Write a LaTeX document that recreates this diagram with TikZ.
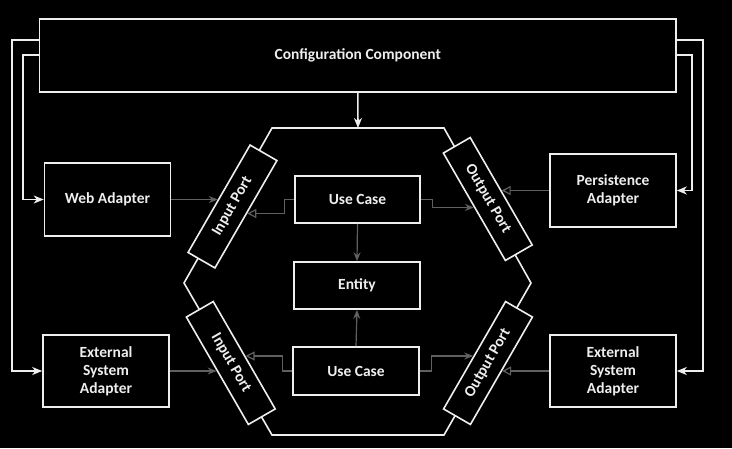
\documentclass[tikz,border=0pt]{standalone}
\usepackage{fontspec}
\setmainfont{Carlito}
\usetikzlibrary{arrows.meta,intersections,calc}
\definecolor{wline}{HTML}{EEEEEE}
\definecolor{gline}{HTML}{606060}
\begin{document}
\begin{tikzpicture}[x=1pt,y=-1pt,
  box/.style={draw=wline, line width=1.6pt, fill=black, text=wline, font=\bfseries\fontsize{15.5}{18}\selectfont, align=center, inner sep=0pt},
  port/.style={box, minimum width=124pt, minimum height=31pt},
  wire/.style={draw=wline, line width=1.6pt},
  warr/.style={wire, -{Stealth[length=10pt,width=8pt,inset=3pt]}},
  garr/.style={draw=gline, line width=1.2pt, -{Stealth[length=9pt,width=7pt,inset=3pt]}},
  gopen/.style={draw=gline, line width=1.2pt, -{Triangle[open,length=9pt,width=9pt,fill=black]}},
]
\fill[black] (0,0) rectangle (732,448);
\useasboundingbox (0,0) rectangle (732,448);

% hexagon
\coordinate (hexTop) at (358,128);
\draw[wire] (272,128) -- (444,128) -- (531,283) -- (444,435) -- (272,435) -- (184,283) -- cycle;

% boxes
\node[box, minimum width=636.5pt, minimum height=73pt] (cfg) at (357.8,55.5) {Configuration Component};
\node[box, minimum width=126pt, minimum height=73pt] (wa) at (107.5,199.5) {Web Adapter};
\node[box, minimum width=126pt, minimum height=72pt] (esl) at (106,371) {External\\System\\Adapter};
\node[box, minimum width=126pt, minimum height=73pt] (pa) at (613,190.5) {Persistence\\Adapter};
\node[box, minimum width=126pt, minimum height=72pt] (esr) at (613,371) {External\\System\\Adapter};
\node[box, minimum width=125pt, minimum height=47pt] (ucU) at (357.5,199.5) {Use Case};
\node[box, minimum width=126pt, minimum height=47pt] (ent) at (357,285.5) {Entity};
\node[box, minimum width=126pt, minimum height=48pt] (ucL) at (356,371) {Use Case};

% ports
\node[port, rotate=60] (ipU) at (232.5,206.5) {Input Port};
\node[port, rotate=-60] (ipL) at (230.8,363) {Input Port};
\node[port, rotate=-60] (opU) at (487.8,199) {Output Port};
\node[port, rotate=60] (opL) at (488,363) {Output Port};

% port sides
\path[name path=ipUn] (ipU.north west) -- (ipU.north east);
\path[name path=ipUs] (ipU.south west) -- (ipU.south east);
\path[name path=ipLn] (ipL.north west) -- (ipL.north east);
\path[name path=ipLs] (ipL.south west) -- (ipL.south east);
\path[name path=opUn] (opU.north west) -- (opU.north east);
\path[name path=opUs] (opU.south west) -- (opU.south east);
\path[name path=opLn] (opL.north west) -- (opL.north east);
\path[name path=opLs] (opL.south west) -- (opL.south east);

% configuration wires
\draw[warr] ([yshift=-22pt]cfg.north west) -- ++(-26.5,0) |- (esl.west);
\draw[warr] ([yshift=-37pt]cfg.north west) -- ++(-15.5,0) |- (wa.west);
\draw[warr] ([yshift=-22pt]cfg.north east) -- ++(26,0) |- (esr.east);
\draw[warr] ([yshift=-37pt]cfg.north east) -- ++(15,0) |- (pa.east);
\draw[warr] (cfg.south) -- (hexTop);

% gray connectors
\path[name path=l1] (wa.east) -- ++(80,0);
\draw[garr, name intersections={of=l1 and ipUn}] (wa.east) -- (intersection-1);

\coordinate (a2) at ($(ucU.west)+(-10,14)$);
\path[name path=l2] (a2) -- ++(-80,0);
\draw[gopen, name intersections={of=l2 and ipUs}] (ucU.west) -- ++(-10,0) -- (a2) -- (intersection-1);

\coordinate (a3) at ($(ucU.east)+(12,8)$);
\path[name path=l3] (a3) -- ++(80,0);
\draw[garr, name intersections={of=l3 and opUs}] (ucU.east) -- ++(12,0) -- (a3) -- (intersection-1);

\path[name path=l4] (pa.west) -- ++(-80,0);
\draw[gopen, name intersections={of=l4 and opUn}] (pa.west) -- (intersection-1);

\draw[garr] (ucU.south) -- (ent.north);
\draw[garr] (ucL.north) -- (ent.south);

\path[name path=l7] (esl.east) -- ++(80,0);
\draw[garr, name intersections={of=l7 and ipLs}] (esl.east) -- (intersection-1);

\coordinate (a8) at ($(ucL.west)+(-10,-15)$);
\path[name path=l8] (a8) -- ++(-80,0);
\draw[gopen, name intersections={of=l8 and ipLn}] (ucL.west) -- ++(-10,0) -- (a8) -- (intersection-1);

\coordinate (a9) at ($(ucL.east)+(12,-15)$);
\path[name path=l9] (a9) -- ++(80,0);
\draw[garr, name intersections={of=l9 and opLn}] (ucL.east) -- ++(12,0) -- (a9) -- (intersection-1);

\path[name path=l10] (esr.west) -- ++(-80,0);
\draw[gopen, name intersections={of=l10 and opLs}] (esr.west) -- (intersection-1);
\end{tikzpicture}
\end{document}
